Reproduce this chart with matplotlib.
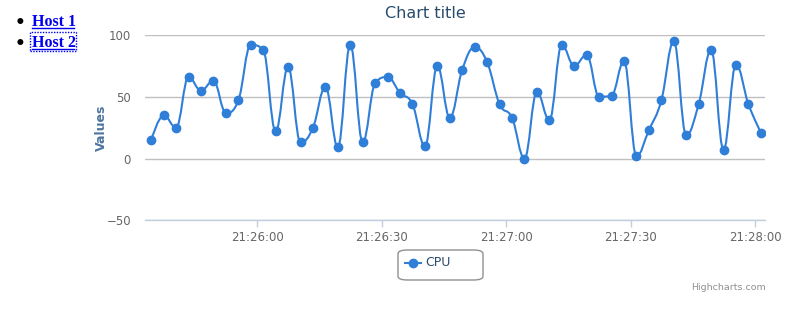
import datetime as dt
import matplotlib
matplotlib.use("Agg")
import matplotlib.pyplot as plt
import matplotlib.dates as mdates
from matplotlib.path import Path
from matplotlib.patches import PathPatch, FancyBboxPatch, Rectangle
from matplotlib.lines import Line2D

# data: CPU samples every 3 seconds
start = dt.datetime(2014, 1, 1, 21, 25, 34, 400000)
step_s = 3
cpu = [15, 35, 25, 66, 55, 63, 37, 47, 92, 88,
       22, 74, 13, 25, 58, 9, 92, 13, 61, 66,
       53, 44, 10, 75, 33, 72, 90, 78, 44, 33,
       0, 54, 31, 92, 75, 84, 50, 51, 79, 2,
       23, 47, 95, 19, 44, 88, 7, 76, 44, 21]
times = [start + dt.timedelta(seconds=step_s * i) for i in range(len(cpu))]
hosts = ["Host 1", "Host 2"]
series_name = "CPU"
title = "Chart title"
y_title = "Values"
y_ticks = [-50, 0, 50, 100]

BLUE = "#2f7ed8"
FONT = ["Lucida Grande", "DejaVu Sans"]


def spline_path(xs, ys, smoothing=1.5):
    # highcharts style spline through the points
    n = len(xs)
    verts = [(xs[0], ys[0])]
    codes = [Path.MOVETO]
    right = [(xs[0], ys[0])]
    left = [None] * n
    for i in range(1, n):
        x, y = xs[i], ys[i]
        if i < n - 1:
            lx, ly = xs[i - 1], ys[i - 1]
            nx_, ny = xs[i + 1], ys[i + 1]
            d = smoothing + 1
            lcx = (smoothing * x + lx) / d
            lcy = (smoothing * y + ly) / d
            rcx = (smoothing * x + nx_) / d
            rcy = (smoothing * y + ny) / d
            corr = (rcy - lcy) * (rcx - x) / (rcx - lcx) + y - rcy
            lcy += corr
            rcy += corr
            if lcy > ly and lcy > y:
                lcy = max(ly, y)
                rcy = 2 * y - lcy
            elif lcy < ly and lcy < y:
                lcy = min(ly, y)
                rcy = 2 * y - lcy
            if rcy > ny and rcy > y:
                rcy = max(ny, y)
                lcy = 2 * y - rcy
            elif rcy < ny and rcy < y:
                rcy = min(ny, y)
                lcy = 2 * y - rcy
            left[i] = (lcx, lcy)
            right.append((rcx, rcy))
        else:
            left[i] = (x, y)
            right.append((x, y))
        verts += [right[i - 1], left[i], (x, y)]
        codes += [Path.CURVE4] * 3
    return Path(verts, codes)


fig = plt.figure(figsize=(7.96, 3.11), dpi=100)
ax = fig.add_axes([145 / 796, 1 - 220.3 / 311, 620 / 796, 185.3 / 311])

xn = mdates.date2num(times)
ax.add_patch(PathPatch(spline_path(list(xn), cpu), fill=False,
                       edgecolor=BLUE, linewidth=1.5, zorder=3))
ax.plot(times, cpu, linestyle="none", marker="o", markersize=6,
        color=BLUE, zorder=4)

x0 = dt.datetime(2014, 1, 1, 21, 25, 32, 900000)
x1 = dt.datetime(2014, 1, 1, 21, 28, 2, 400000)
ax.set_xlim(x0, x1)
ax.set_ylim(-50, 100)
ax.set_yticks(y_ticks)
ax.xaxis.set_major_locator(mdates.SecondLocator(bysecond=[0, 30]))
ax.xaxis.set_major_formatter(mdates.DateFormatter("%H:%M:%S"))

ax.grid(axis="y", color="#c0c0c0", linewidth=1)
ax.set_axisbelow(True)
for s in ["top", "right", "left"]:
    ax.spines[s].set_visible(False)
ax.spines["bottom"].set_color("#c0d0e0")
ax.spines["bottom"].set_linewidth(1)
ax.tick_params(axis="x", colors="#c0d0e0", length=5, width=1, pad=3,
               labelcolor="#666666", labelsize=8.5)
ax.tick_params(axis="y", length=0, pad=10, labelcolor="#666666", labelsize=8.5)
for lbl in ax.get_xticklabels() + ax.get_yticklabels():
    lbl.set_family(FONT)

ax.set_ylabel(y_title, color="#4d759e", fontweight="bold", fontsize=9,
              family=FONT, labelpad=-1)

fig.text(425 / 796, 1 - 14 / 311, title, ha="center", va="center",
         fontsize=11.5, color="#274b6d", family=FONT)

# legend box
fig.patches.append(FancyBboxPatch((398 / 796, 1 - 280 / 311), 85 / 796, 30 / 311,
                                  boxstyle="round,pad=0,rounding_size=0.012",
                                  transform=fig.transFigure, facecolor="white",
                                  edgecolor="#909090", linewidth=1))
fig.add_artist(Line2D([405 / 796, 421 / 796], [1 - 263 / 311] * 2,
                      color=BLUE, linewidth=1.5, marker=None))
fig.add_artist(Line2D([413 / 796], [1 - 263 / 311], color=BLUE,
                      marker="o", markersize=6, linestyle="none"))
fig.text(425 / 796, 1 - 263 / 311, series_name, ha="left", va="center",
         fontsize=9, color="#274b6d", family=FONT)

fig.text(766 / 796, 1 - 287 / 311, "Highcharts.com", ha="right", va="center",
         fontsize=6.8, color="#909090", family=FONT)

# host list on the left
for i, h in enumerate(hosts):
    yc = 20 + 21 * i
    fig.text(20 / 796, 1 - (yc + 4) / 311, "\u2022", ha="center", va="center",
             fontsize=18, color="black", family="Liberation Serif")
    fig.text(32 / 796, 1 - (yc + 6) / 311, h, ha="left", va="baseline",
             fontsize=11.5, fontweight="bold", color="#0000ee",
             family="Liberation Serif")
    fig.add_artist(Line2D([32 / 796, 74 / 796], [1 - (yc + 8) / 311] * 2,
                          color="#0000ee", linewidth=1))
    if i == 1:
        fig.patches.append(Rectangle((30 / 796, 1 - 51 / 311), 46 / 796, 19 / 311,
                                     transform=fig.transFigure, fill=False,
                                     edgecolor="#0000ee", linestyle=(0, (1, 1)),
                                     linewidth=1))

fig.savefig("out.png", dpi=100)
